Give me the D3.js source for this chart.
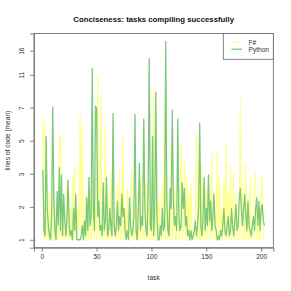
<!DOCTYPE html>
<html>
<head>
<meta charset="utf-8">
<script src="https://cdnjs.cloudflare.com/ajax/libs/d3/7.8.5/d3.min.js"></script>
<style>
  body { margin: 0; background: #fff; }
  svg { display: block; font-family: "Liberation Sans", Arial, sans-serif; }
</style>
</head>
<body>
<svg></svg>
<script>
//Mean lines of code per task (task number = position + 1)
var fsharp = [
  6.6, 1.33, 6.0, 1.33, 1.8, 1.33, 2.5, 1.33, 1.5, 1.33,
  3.0, 1.33, 2.0, 1.33, 1.33, 5.1, 5.1, 1.33, 2.2, 1.33,
  1.5, 1.33, 2.8, 1.33, 1.6, 2.0, 1.33, 3.0, 1.33, 3.5,
  1.33, 1.33, 2.0, 1.5, 6.8, 1.33, 5.9, 1.5, 1.33, 2.4,
  1.33, 1.8, 1.33, 2.6, 1.33, 1.5, 3.0, 1.33, 2.0, 1.33,
  11.2, 1.33, 2.0, 8.9, 1.33, 1.6, 1.33, 5.9, 1.33, 2.5,
  1.33, 1.33, 3.2, 1.33, 1.5, 2.2, 1.33, 1.33, 2.8, 1.33,
  3.3, 1.33, 1.5, 5.1, 1.33, 2.0, 1.33, 2.6, 1.33, 1.33,
  2.2, 3.3, 1.33, 1.5, 1.33, 2.4, 1.33, 1.33, 2.0, 1.33,
  3.0, 1.33, 1.5, 1.33, 2.8, 1.33, 4.0, 1.33, 2.0, 1.33,
  1.33, 9.4, 1.33, 1.5, 3.5, 1.33, 2.2, 1.33, 1.33, 2.8,
  1.33, 7.2, 1.33, 3.2, 1.33, 2.0, 1.33, 4.2, 1.33, 1.5,
  2.6, 1.33, 1.33, 3.0, 1.33, 2.0, 4.6, 1.33, 1.5, 3.8,
  1.33, 3.1, 1.33, 2.4, 1.33, 2.8, 1.33, 1.5, 1.33, 2.0,
  5.3, 1.33, 2.5, 1.33, 1.33, 3.6, 1.33, 1.8, 1.33, 2.6,
  1.33, 1.5, 2.2, 1.33, 4.1, 1.33, 2.5, 1.33, 1.33, 4.2,
  1.33, 3.0, 1.33, 2.0, 1.33, 2.8, 1.33, 4.6, 1.33, 2.5,
  1.33, 3.5, 1.33, 1.6, 3.2, 1.33, 2.4, 1.33, 1.33, 1.33,
  8.3, 1.33, 2.8, 1.33, 1.33, 3.6, 1.33, 2.0, 1.33, 3.0,
  1.33, 1.5, 1.33, 2.6, 3.2, 1.33, 2.0, 1.33, 1.33, 2.2,
  3.1, 1.33, 1.33
];
var python = [
  3.3, 1.5, 1.4, 5.1, 2.0, 1.6, 1.4, 1.33, 1.8, 7.5,
  2.2, 1.5, 1.33, 2.5, 1.6, 3.4, 1.5, 3.1, 1.4, 2.4,
  1.7, 1.4, 1.8, 2.9, 1.6, 1.4, 1.5, 1.33, 2.0, 1.5,
  2.4, 1.33, 1.33, 1.33, 1.33, 1.4, 1.6, 1.33, 1.7, 1.4,
  2.3, 1.5, 3.0, 1.6, 1.8, 12.4, 2.0, 1.5, 7.6, 7.3,
  1.8, 2.2, 1.5, 1.6, 1.4, 2.8, 1.5, 1.7, 3.0, 1.4,
  1.5, 2.0, 1.6, 1.4, 6.9, 1.6, 1.4, 1.6, 2.2, 1.5,
  1.8, 1.6, 2.4, 1.8, 2.0, 1.5, 1.33, 1.5, 1.33, 2.3,
  1.6, 1.4, 1.5, 1.8, 6.8, 1.5, 1.33, 2.0, 3.6, 1.5,
  1.8, 1.6, 6.4, 2.0, 1.5, 1.4, 2.5, 14.1, 1.6, 1.5,
  5.1, 1.4, 2.0, 9.1, 1.8, 1.33, 1.33, 1.6, 1.4, 2.0,
  1.5, 1.6, 17.6, 2.2, 1.5, 1.4, 2.6, 2.0, 7.2, 2.2,
  1.6, 1.8, 1.5, 6.4, 1.8, 1.5, 1.6, 2.8, 2.0, 2.6,
  1.6, 1.8, 1.4, 1.5, 1.33, 1.5, 1.33, 1.4, 1.5, 1.7,
  1.4, 1.6, 2.0, 6.1, 1.6, 1.4, 1.8, 3.0, 1.5, 2.0,
  1.6, 3.1, 1.7, 2.2, 1.5, 1.8, 2.4, 1.6, 1.5, 1.33,
  1.4, 1.33, 1.5, 1.4, 1.6, 2.0, 1.5, 1.4, 1.6, 1.8,
  1.4, 1.5, 2.0, 1.6, 1.4, 1.7, 2.1, 1.5, 1.6, 2.3,
  2.6, 2.0, 1.6, 2.0, 2.4, 1.8, 1.5, 2.2, 1.6, 1.5,
  1.4, 1.6, 1.8, 1.5, 2.0, 2.3, 1.6, 2.2, 1.5, 2.0,
  2.1, 1.7, 1.6
];

//Series names and colours for the legend
var seriesNames = ["F#", "Python"];
var seriesColors = ["#ffff8c", "#7cc97c"];

//Axis ticks (y labels are rounded, so they get their own list)
var xTickValues = [0, 50, 100, 150, 200];
var yTickValues = [1.33, 2.04, 3.14, 4.83, 7.43, 11.4, 15.6];
var yTickLabels = ["1", "2", "3", "5", "7", "11", "16"];

//Set Dimensions of svg
var width = 291;
var height = 291;
var box = { left: 34, right: 273.3, top: 33.5, bottom: 247.7 };

var svg = d3.select('svg')
            .attr('width', width)
            .attr('height', height);

//R style scales: 4% padding on each side
var n = python.length;
var xPad = 0.04 * (n - 1);
var xScale = d3.scaleLinear()
               .domain([1 - xPad, n + xPad])
               .range([box.left, box.right]);

var all = fsharp.concat(python);
var yMin = d3.min(all), yMax = d3.max(all);
var yPad = Math.pow(yMax / yMin, 0.04);
var yScale = d3.scaleLog()
               .domain([yMin / yPad, yMax * yPad])
               .range([box.bottom, box.top]);

var line = d3.line()
             .x((d, i) => xScale(i + 1))
             .y(d => yScale(d));

//Lines: F# first, Python on top
[fsharp, python].forEach(function(series, k) {
  svg.append("path")
     .datum(series)
     .attr("fill", "none")
     .attr("stroke", seriesColors[k])
     .attr("stroke-width", k == 0 ? 1.2 : 1.3)
     .attr("stroke-linejoin", "round")
     .attr("d", line);
});

//Plot frame
svg.append("rect")
   .attr("x", box.left)
   .attr("y", box.top)
   .attr("width", box.right - box.left)
   .attr("height", box.bottom - box.top)
   .attr("fill", "none")
   .attr("stroke", "#666")
   .attr("stroke-width", 0.8);

//X axis
var xAxis = svg.append("g")
   .attr("transform", "translate(0," + box.bottom + ")")
   .call(d3.axisBottom(xScale).tickValues(xTickValues).tickSize(4).tickPadding(3));

//Y axis
var yAxis = svg.append("g")
   .attr("transform", "translate(" + box.left + ",0)")
   .call(d3.axisLeft(yScale).tickValues(yTickValues)
           .tickFormat((d, i) => yTickLabels[i]).tickSize(4).tickPadding(4));

[xAxis, yAxis].forEach(function(g) {
  g.select(".domain").attr("stroke", "#666").attr("stroke-width", 0.8);
  g.selectAll(".tick line").attr("stroke", "#666").attr("stroke-width", 0.8);
  g.selectAll(".tick text")
   .attr("fill", "#333")
   .style("font-size", "6.6px")
   .style("font-family", "Liberation Sans, Arial, sans-serif");
});

//Rotate y tick labels like R's default las=0
yAxis.selectAll(".tick text")
     .attr("transform", "rotate(-90)")
     .attr("x", 0)
     .attr("y", -10.5)
     .attr("dy", "0")
     .style("text-anchor", "middle");

//Title and axis titles
svg.append("text")
   .attr("x", (box.left + box.right) / 2)
   .attr("y", 21.5)
   .attr("text-anchor", "middle")
   .style("font-size", "7.8px")
   .style("font-weight", "bold")
   .attr("fill", "#111")
   .text("Conciseness: tasks compiling successfully");

svg.append("text")
   .attr("x", (box.left + box.right) / 2)
   .attr("y", 279.5)
   .attr("text-anchor", "middle")
   .style("font-size", "6.6px")
   .attr("fill", "#333")
   .text("task");

svg.append("text")
   .attr("transform", "translate(9.5," + (box.top + box.bottom) / 2 + ") rotate(-90)")
   .attr("text-anchor", "middle")
   .style("font-size", "6.6px")
   .attr("fill", "#333")
   .text("lines of code (mean)");

//Legend in the top right corner
var legend = svg.append("g");
legend.append("rect")
      .attr("x", 223.3)
      .attr("y", box.top)
      .attr("width", box.right - 223.3)
      .attr("height", 25.8)
      .attr("fill", "#fff")
      .attr("stroke", "#666")
      .attr("stroke-width", 0.8);

seriesNames.forEach(function(name, k) {
  var yy = 42.3 + k * 6.9;
  legend.append("line")
        .attr("x1", 231.5).attr("x2", 242)
        .attr("y1", yy).attr("y2", yy)
        .attr("stroke", seriesColors[k])
        .attr("stroke-width", 1.3);
  legend.append("text")
        .attr("x", 248.5)
        .attr("y", yy + 2.3)
        .style("font-size", "6.6px")
        .attr("fill", "#333")
        .text(name);
});
</script>
</body>
</html>
